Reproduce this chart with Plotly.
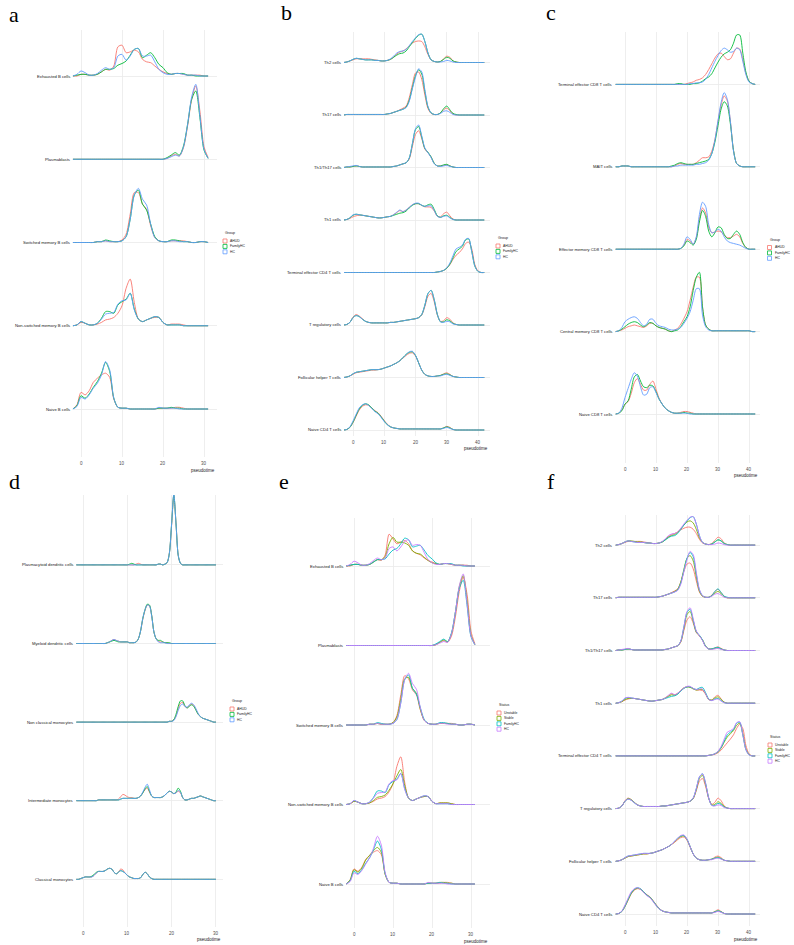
import plotly.graph_objects as go

W, H = 794, 945

GROUPS_3 = ["AHUD", "FamilyHC", "HC"]
GROUPS_4 = ["Unstable", "Stable", "FamilyHC", "HC"]
COLORS_3 = {"AHUD": "#F8766D", "FamilyHC": "#00BA38", "HC": "#619CFF"}
COLORS_4 = {"Unstable": "#F8766D", "Stable": "#7CAE00", "FamilyHC": "#00BFC4", "HC": "#C77CFF"}

# pseudotime grids
T_A = list(range(-2, 32))
T_B = list(range(-3, 43))
T_D = [i / 2 for i in range(-3, 61)]

TICKS_30 = [0, 10, 20, 30]
TICKS_40 = [0, 10, 20, 30, 40]

# ---------------- panel a (heights in % of ridge spacing)
A_RIDGES = ["Naive B cells", "Non-switched memory B cells", "Switched memory B cells", "Plasmablasts", "Exhausted B cells"]
A_NAIVE = {
    "AHUD":     [0,5,20,17,22,32,37,41,43,38,12,2,1,1,0,0,0,0,0,0,0,1,1,1,1,2,2,1,0,0,0,0,0,0],
    "FamilyHC": [0,4,16,13,18,26,33,43,56,45,13,2,1,1,0,0,0,0,0,0,0,1,1,1,2,1,1,0,0,0,0,0,0,0],
    "HC":       [0,3,14,12,17,25,31,41,57,47,13,2,1,1,0,0,0,0,0,0,0,2,1,1,1,1,0,0,0,0,0,0,0,0],
}
A_NONSW = {
    "AHUD":     [0,1,4,3,1,1,2,4,7,8,10,15,24,45,56,28,8,5,7,9,10,10,4,1,2,2,2,1,0,0,0,0,0,0],
    "FamilyHC": [0,1,5,3,1,1,3,9,17,17,15,25,29,32,39,20,8,5,7,9,11,10,4,1,1,1,1,0,0,0,0,0,0,0],
    "HC":       [0,1,5,3,1,1,3,8,14,15,16,26,30,31,39,19,8,5,7,9,11,10,4,1,1,1,1,0,0,0,0,0,0,0],
}
A_SW = {
    "AHUD":     [0,0,0,0,0,0,1,1,2,1,1,1,3,10,34,60,60,46,40,20,6,2,1,1,2,2,2,2,1,0,0,1,1,0],
    "FamilyHC": [0,0,0,0,0,0,1,1,3,2,1,1,2,7,28,57,63,46,39,22,7,2,1,1,3,3,2,1,1,0,0,1,1,0],
    "HC":       [0,0,0,0,0,0,1,1,2,1,1,1,2,7,28,57,65,52,45,22,6,2,1,1,2,2,1,1,1,0,0,1,1,0],
}
A_PLASMA = {
    "AHUD":     [0,0,0,0,0,0,0,0,0,0,0,0,0,0,0,0,0,0,0,0,0,0,0,1,4,6,4,14,40,72,88,58,15,2],
    "FamilyHC": [0,0,0,0,0,0,0,0,0,0,0,0,0,0,0,0,0,0,0,0,0,0,0,2,5,8,5,16,42,72,82,50,11,1],
    "HC":       [0,0,0,0,0,0,0,0,0,0,0,0,0,0,0,0,0,0,0,0,0,0,0,1,3,5,4,15,42,75,90,52,12,1],
}
A_EXH = {
    "AHUD":     [0,0,2,2,1,1,2,5,8,7,12,35,37,28,29,31,29,20,17,16,12,8,5,3,2,3,3,2,1,1,1,1,0,0],
    "FamilyHC": [0,1,2,2,1,1,2,5,8,8,9,13,15,18,25,32,33,22,25,28,22,14,10,4,2,3,3,3,1,1,0,0,0,0],
    "HC":       [0,2,6,4,1,1,3,7,10,8,10,24,26,19,24,32,33,24,24,25,17,8,4,2,2,3,3,2,1,1,1,0,0,0],
}
A_DATA = [A_NAIVE, A_NONSW, A_SW, A_PLASMA, A_EXH]

# ---------------- panel b
B_RIDGES = ["Naive CD4 T cells", "Follicular helper T cells", "T regulatory cells", "Terminal effector CD4 T cells",
            "Th1 cells", "Th1/Th17 cells", "Th17 cells", "Th2 cells"]
B_NAIVE = {
    "AHUD":     [0,1,5,14,26,38,45,48,47,42, 37,33,26,18,11,6,4,3,2,2, 2,2,2,2,2,2,2,2,2,2, 2,2,4,7,5,1,0,0,0,0, 0,0,0,0,0,0],
    "FamilyHC": [0,1,5,15,28,40,47,50,48,42, 36,32,25,17,10,6,4,3,2,2, 2,2,2,2,2,2,2,2,2,2, 2,2,4,6,4,1,0,0,0,0, 0,0,0,0,0,0],
    "HC":       [0,1,6,17,30,42,48,50,47,41, 35,31,24,16,10,6,4,3,2,2, 2,2,2,2,2,2,2,2,2,2, 2,2,3,5,3,1,0,0,0,0, 0,0,0,0,0,0],
}
B_TFH = {
    "AHUD":     [0,1,3,6,9,10,11,12,13,14, 14,15,16,18,20,22,25,28,32,37, 42,46,47,41,28,14,6,3,2,2, 3,4,7,9,6,2,1,0,0,0, 0,0,0,0,0,0],
    "FamilyHC": [0,1,3,7,10,11,12,13,14,15, 15,15,16,18,20,22,25,28,32,38, 44,48,49,42,28,14,6,3,2,2, 3,4,6,7,5,2,1,0,0,0, 0,0,0,0,0,0],
    "HC":       [0,1,3,7,10,11,12,13,14,15, 15,15,16,18,20,22,25,28,32,38, 44,49,50,42,28,14,6,3,2,2, 3,3,5,6,4,2,1,0,0,0, 0,0,0,0,0,0],
}
B_TREG = {
    "AHUD":     [0,1,5,15,20,17,12,7,5,4, 4,4,4,4,4,5,5,6,7,8, 9,10,11,12,14,19,35,55,60,44, 19,7,8,14,11,4,1,0,0,0, 0,0,0,0,0,0],
    "FamilyHC": [0,1,5,14,18,16,11,7,5,4, 4,4,4,4,4,5,5,6,7,8, 9,10,11,12,14,20,38,60,66,48, 20,6,6,10,8,3,1,0,0,0, 0,0,0,0,0,0],
    "HC":       [0,1,5,14,18,16,11,7,5,4, 4,4,4,4,4,5,5,6,7,8, 9,10,11,12,14,20,38,60,66,48, 20,6,5,7,6,2,1,0,0,0, 0,0,0,0,0,0],
}
B_TEFF = {
    "AHUD":     [0,0,0,0,0,0,0,0,0,0, 0,0,0,0,0,0,0,0,0,0, 0,0,0,0,0,0,0,0,0,0, 1,2,4,8,15,25,33,38,45,55, 58,45,15,3,0,0],
    "FamilyHC": [0,0,0,0,0,0,0,0,0,0, 0,0,0,0,0,0,0,0,0,0, 0,0,0,0,0,0,0,0,0,0, 1,2,4,8,16,28,40,45,50,62, 64,40,12,2,0,0],
    "HC":       [0,0,0,0,0,0,0,0,0,0, 0,0,0,0,0,0,0,0,0,0, 0,0,0,0,0,0,0,0,0,0, 1,2,4,9,18,32,45,48,52,63, 65,40,12,2,0,0],
}
B_TH1 = {
    "AHUD":     [0,1,3,6,8,9,9,8,7,6, 5,4,4,5,6,7,10,14,18,16, 19,24,29,31,31,28,25,25,24,17, 7,6,12,15,8,2,0,0,0,0, 0,0,0,0,0,0],
    "FamilyHC": [0,1,4,9,11,10,9,8,7,6, 5,4,4,5,6,7,9,11,13,14, 17,23,28,31,31,28,26,29,30,20, 8,5,8,9,5,1,0,0,0,0, 0,0,0,0,0,0],
    "HC":       [0,1,4,10,11,10,9,8,7,6, 5,4,4,5,6,7,10,15,19,16, 19,24,29,32,32,28,26,27,27,18, 7,5,7,8,4,1,0,0,0,0, 0,0,0,0,0,0],
}
B_TH1TH17 = {
    "AHUD":     [0,1,1,2,3,2,1,1,1,1, 1,1,1,1,1,1,2,3,5,7, 9,16,40,63,70,55,35,28,20,8, 3,3,4,5,3,1,0,0,0,0, 0,0,0,0,0,0],
    "FamilyHC": [0,1,1,2,3,2,1,1,1,1, 1,1,1,1,1,1,2,3,5,7, 9,18,45,72,78,58,36,29,20,8, 3,3,5,6,3,1,0,0,0,0, 0,0,0,0,0,0],
    "HC":       [0,1,2,3,4,2,1,1,1,1, 1,1,1,1,1,1,2,3,5,7, 9,18,45,74,81,60,37,28,19,7, 3,2,3,4,2,1,0,0,0,0, 0,0,0,0,0,0],
}
B_TH17 = {
    "AHUD":     [0,1,1,1,1,1,1,1,1,1, 1,1,1,1,2,3,5,7,10,13, 17,33,58,80,82,68,38,12,3,1, 1,4,10,13,8,2,0,0,0,0, 0,0,0,0,0,0],
    "FamilyHC": [0,1,1,1,1,1,1,1,1,1, 1,1,1,1,2,3,5,7,9,11, 15,28,52,75,86,78,45,15,4,1, 1,4,12,17,10,3,1,0,0,0, 0,0,0,0,0,0],
    "HC":       [0,1,1,1,1,1,1,1,1,1, 1,1,1,1,2,3,5,7,9,11, 14,26,50,72,88,82,48,16,4,1, 1,3,7,8,5,1,0,0,0,0, 0,0,0,0,0,0],
}
B_TH2 = {
    "AHUD":     [0,1,3,5,7,7,7,7,7,6, 5,4,3,3,4,6,10,16,20,22, 26,32,37,40,41,40,30,15,5,2, 1,2,7,12,10,3,1,0,0,0, 0,0,0,0,0,0],
    "FamilyHC": [0,1,3,6,8,7,6,5,5,5, 4,4,3,3,4,6,10,14,17,18, 22,30,38,46,52,54,40,18,5,2, 1,2,6,10,8,3,1,0,0,0, 0,0,0,0,0,0],
    "HC":       [0,1,3,6,8,7,6,5,5,5, 4,4,3,3,4,7,12,18,21,22, 25,32,40,47,53,54,40,18,5,2, 1,1,2,4,3,1,0,0,0,0, 0,0,0,0,0,0],
}
B_DATA = [B_NAIVE, B_TFH, B_TREG, B_TEFF, B_TH1, B_TH1TH17, B_TH17, B_TH2]

# ---------------- panel c
C_RIDGES = ["Naive CD8 T cells", "Central memory CD8 T cells", "Effector memory CD8 T cells", "MAIT cells",
            "Terminal effector CD8 T cells"]
C_NAIVE = {
    "AHUD":     [0,1,5,12,15,25,38,43,36,29, 29,36,40,30,19,12,7,4,2,1, 1,2,3,3,2,1,0,0,0,0, 0,0,0,0,0,0,0,0,0,0, 0,0,0,0,0,0],
    "FamilyHC": [0,1,4,12,16,30,45,48,40,33, 32,35,34,27,18,12,7,4,2,1, 1,1,2,1,1,0,0,0,0,0, 0,0,0,0,0,0,0,0,0,0, 0,0,0,0,0,0],
    "HC":       [0,1,7,20,31,42,50,46,33,23, 24,32,33,26,18,12,7,4,2,1, 1,1,1,1,0,0,0,0,0,0, 0,0,0,0,0,0,0,0,0,0, 0,0,0,0,0,0],
}
C_CM = {
    "AHUD":     [0,1,2,4,6,7,8,7,6,5, 7,10,10,7,5,4,3,1,0,2, 4,9,16,24,38,54,66,66,30,8, 3,1,1,1,1,1,1,1,1,1, 1,1,1,1,0,0],
    "FamilyHC": [0,1,3,6,9,11,12,11,8,6, 8,11,10,7,5,4,3,1,0,1, 2,6,12,18,30,50,66,72,30,8, 3,1,1,1,1,1,1,1,1,1, 1,1,1,1,0,0],
    "HC":       [0,1,5,12,15,17,18,16,11,7, 9,15,15,10,7,6,5,3,2,2, 3,5,10,16,24,38,52,52,20,6, 2,1,1,1,1,1,1,1,1,1, 1,1,1,1,0,0],
}
C_EM = {
    "AHUD":     [0,0,0,0,0,0,0,0,0,0, 0,0,0,0,0,0,0,0,0,0, 0,1,5,12,10,6,14,36,50,44, 27,20,21,22,21,17,14,14,16,18, 15,7,2,0,0,0],
    "FamilyHC": [0,0,0,0,0,0,0,0,0,0, 0,0,0,0,0,0,0,0,0,0, 0,1,4,10,8,5,12,33,47,40, 22,15,20,27,26,18,13,13,18,22, 18,8,2,0,0,0],
    "HC":       [0,0,0,0,0,0,0,0,0,0, 0,0,0,0,0,0,0,0,0,0, 0,1,6,15,12,6,15,42,57,52, 30,20,21,24,22,15,10,8,7,6, 5,3,1,0,0,0],
}
C_MAIT = {
    "AHUD":     [0,0,1,1,1,0,0,0,0,0, 0,0,0,0,0,0,0,0,0,1, 3,4,3,3,3,3,5,8,11,11, 12,19,33,55,75,86,80,55,20,4, 1,0,0,0,0,0],
    "FamilyHC": [0,0,1,1,1,0,0,0,0,0, 0,0,0,0,0,0,0,0,1,2, 4,5,4,3,3,3,4,5,6,7, 9,16,30,50,70,79,74,52,20,4, 1,0,0,0,0,0],
    "HC":       [0,0,1,1,1,0,0,0,0,0, 0,0,0,0,0,0,0,0,0,1, 1,2,2,2,2,2,3,3,4,5, 8,16,32,56,78,90,82,55,19,4, 1,0,0,0,0,0],
}
C_TEFF = {
    "AHUD":     [0,0,0,0,0,0,0,0,0,0, 0,0,0,0,0,0,0,0,0,0, 0,0,0,1,2,3,5,6,8,12, 18,25,32,37,38,34,30,31,38,44, 43,30,13,4,1,0],
    "FamilyHC": [0,0,0,0,0,0,0,0,0,0, 0,0,0,0,0,0,0,0,0,0, 1,1,0,0,0,1,1,2,4,7, 9,13,20,27,33,37,39,42,50,60, 60,38,15,4,1,0],
    "HC":       [0,0,0,0,0,0,0,0,0,0, 0,0,0,0,0,0,0,0,0,0, 0,0,0,0,1,1,2,2,3,6, 12,20,28,35,41,44,42,39,40,44, 42,28,12,3,1,0],
}
C_DATA = [C_NAIVE, C_CM, C_EM, C_MAIT, C_TEFF]

# ---------------- panel d (grid step 0.5)
D_RIDGES = ["Classical monocytes", "Intermediate monocytes", "Non classical monocytes", "Myeloid dendritic cells",
            "Plasmacytoid dendritic cells"]
D_CLASSICAL = {
    "AHUD": [0,0,1,2,3,3,3,3, 5,8,10,10,10,11,13,14, 13,9,7,9,13,12,8,5, 3,2,1,1,1,2,6,9,
             7,3,1,0,0,0,0,0, 0,0,0,0,0,0,0,0, 0,0,0,0,0,0,0,0, 0,0,0,0,0,0,0,0],
    "FamilyHC": [0,0,1,2,3,3,3,4, 6,9,10,10,10,11,13,14, 13,9,7,9,11,10,8,5, 3,2,1,1,1,2,6,9,
                 7,3,1,0,0,0,0,0, 0,0,0,0,0,0,0,0, 0,0,0,0,0,0,0,0, 0,0,0,0,0,0,0,0],
    "HC": [0,0,1,2,3,3,3,3, 5,8,10,10,10,11,13,14, 13,9,7,9,11,10,8,5, 3,2,1,1,1,2,6,9,
           7,3,1,0,0,0,0,0, 0,0,0,0,0,0,0,0, 0,0,0,0,0,0,0,0, 0,0,0,0,0,0,0,0],
}
D_INTER = {
    "AHUD": [0,0,0,0,0,0,0,0, 0,0,1,1,1,1,1,1, 1,1,1,2,5,8,7,5, 4,4,3,3,4,6,10,14,
             16,11,6,4,4,4,4,5, 7,10,12,11,9,10,12,10, 4,1,1,2,3,3,4,5, 6,5,4,3,2,1,0,0],
    "FamilyHC": [0,0,0,0,0,0,0,0, 0,0,1,1,1,1,1,1, 1,1,1,1,2,3,3,3, 3,3,3,3,4,6,10,15,
                 18,12,6,4,4,4,4,5, 7,10,12,11,9,11,16,12, 4,1,1,2,3,3,4,5, 6,5,4,3,2,1,0,0],
    "HC": [0,0,0,0,0,0,0,0, 0,0,1,1,1,1,1,1, 1,1,1,1,2,3,3,3, 3,3,3,3,4,6,11,17,
           21,14,6,4,4,4,4,5, 7,10,12,11,9,10,13,11, 4,1,1,2,3,3,4,5, 6,5,4,3,2,1,0,0],
}
D_NONCLASS = {
    "AHUD": [0,0,0,0,0,0,0,0, 0,0,0,0,0,0,0,0, 0,0,0,0,0,0,0,0, 0,0,0,0,0,0,0,0,
             0,0,0,0,0,0,0,0, 0,0,1,1,3,8,17,24, 25,20,18,21,23,21,16,10, 7,5,4,3,2,1,0,0],
    "FamilyHC": [0,0,0,0,0,0,0,0, 0,0,0,0,0,0,0,0, 0,0,0,0,0,0,0,0, 0,0,0,0,0,0,0,0,
                 0,0,0,0,0,0,0,0, 0,0,1,1,3,10,20,27, 27,21,18,20,22,20,15,10, 7,5,4,3,2,1,0,0],
    "HC": [0,0,0,0,0,0,0,0, 0,0,0,0,0,0,0,0, 0,0,0,0,0,0,0,0, 0,0,0,0,0,0,0,0,
           0,0,0,0,0,0,0,0, 0,0,1,1,2,7,15,21, 23,20,19,22,24,22,17,11, 7,5,4,3,2,1,0,0],
}
D_MYELOID = {
    "AHUD": [0,0,0,0,0,0,0,0, 0,0,0,0,0,0,1,2, 4,5,4,3,2,2,2,2, 1,1,1,2,6,16,31,42,
             49,48,36,15,6,3,2,2, 1,1,0,0,0,0,0,0, 0,0,0,0,0,0,0,0, 0,0,0,0,0,0,0,0],
    "FamilyHC": [0,0,0,0,0,0,0,0, 0,0,0,0,0,0,1,2, 3,4,3,2,2,2,2,2, 1,1,1,2,6,16,32,43,
                 50,49,36,15,6,4,4,2, 1,1,1,0,0,0,0,0, 0,0,0,0,0,0,0,0, 0,0,0,0,0,0,0,0],
    "HC": [0,0,0,0,0,0,0,0, 0,0,0,0,0,0,1,2, 4,5,4,3,2,2,2,2, 1,1,1,2,6,16,32,43,
           49,48,35,15,6,2,1,1, 1,0,0,0,0,0,0,0, 0,0,0,0,0,0,0,0, 0,0,0,0,0,0,0,0],
}
D_PDC = {
    "AHUD": [0,0,0,0,0,0,0,0, 0,0,0,0,0,0,0,0, 0,0,0,0,0,0,0,0, 0,0,0,1,2,1,0,0,
             0,0,0,0,0,1,1,0, 1,3,15,50,88,53,12,2, 0,0,0,0,0,0,0,0, 0,0,0,0,0,0,0,0],
    "FamilyHC": [0,0,0,0,0,0,0,0, 0,0,0,0,0,0,0,0, 0,0,0,0,0,0,0,0, 1,2,1,0,0,0,0,0,
                 0,0,0,0,0,1,1,0, 1,3,15,52,89,52,12,2, 0,0,0,0,0,0,0,0, 0,0,0,0,0,0,0,0],
    "HC": [0,0,0,0,0,0,0,0, 0,0,0,0,0,0,0,0, 0,0,0,0,0,0,0,0, 0,0,0,0,0,0,0,0,
           0,0,0,0,0,1,1,0, 1,3,15,52,90,52,12,2, 0,0,0,0,0,0,0,0, 0,0,0,0,0,0,0,0],
}
D_DATA = [D_CLASSICAL, D_INTER, D_NONCLASS, D_MYELOID, D_PDC]

# ---------------- panel e (B cells by status)
E_RIDGES = A_RIDGES
E_NAIVE = {
    "Unstable": [0,5,19,16,21,31,36,40,42,37,12,2,1,1,0,0,0,0,0,0,0,1,1,1,1,2,2,1,0,0,0,0,0,0],
    "Stable":   [0,5,18,15,20,30,36,42,46,40,12,2,1,1,0,0,0,0,0,0,0,1,1,1,2,2,1,1,0,0,0,0,0,0],
    "FamilyHC": [0,4,16,13,18,26,33,43,54,44,13,2,1,1,0,0,0,0,0,0,0,1,1,1,2,1,1,0,0,0,0,0,0,0],
    "HC":       [0,3,14,12,17,25,33,45,60,49,14,2,1,1,0,0,0,0,0,0,0,2,1,1,1,1,0,0,0,0,0,0,0,0],
}
E_NONSW = {
    "Unstable": [0,1,4,3,1,1,2,4,7,8,10,16,26,48,60,28,8,5,7,9,10,10,4,1,2,2,2,1,0,0,0,0,0,0],
    "Stable":   [0,1,4,3,1,1,2,5,9,10,12,18,26,36,44,24,8,5,7,9,10,10,4,1,2,2,2,1,0,0,0,0,0,0],
    "FamilyHC": [0,1,5,3,1,1,3,9,17,17,15,25,29,32,39,20,8,5,7,9,11,10,4,1,1,1,1,0,0,0,0,0,0,0],
    "HC":       [0,1,5,3,1,1,3,8,14,15,16,26,30,31,39,19,8,5,7,9,11,10,4,1,1,1,1,0,0,0,0,0,0,0],
}
E_SW = {
    "Unstable": [0,0,0,0,0,0,1,1,2,1,1,1,3,12,38,62,58,44,38,19,6,2,1,1,2,2,2,2,1,0,0,1,1,0],
    "Stable":   [0,0,0,0,0,0,1,1,2,1,1,1,3,10,33,58,60,46,40,20,6,2,1,1,2,2,2,1,1,0,0,1,1,0],
    "FamilyHC": [0,0,0,0,0,0,1,1,3,2,1,1,2,7,28,57,63,46,39,22,7,2,1,1,3,3,2,1,1,0,0,1,1,0],
    "HC":       [0,0,0,0,0,0,1,1,2,1,1,1,2,7,28,57,65,52,45,22,6,2,1,1,2,2,1,1,1,0,0,1,1,0],
}
E_PLASMA = {
    "Unstable": [0,0,0,0,0,0,0,0,0,0,0,0,0,0,0,0,0,0,0,0,0,0,0,1,4,6,4,12,36,68,86,64,18,2],
    "Stable":   [0,0,0,0,0,0,0,0,0,0,0,0,0,0,0,0,0,0,0,0,0,0,0,1,4,7,5,15,42,74,88,56,13,1],
    "FamilyHC": [0,0,0,0,0,0,0,0,0,0,0,0,0,0,0,0,0,0,0,0,0,0,0,2,5,8,5,16,42,72,82,50,11,1],
    "HC":       [0,0,0,0,0,0,0,0,0,0,0,0,0,0,0,0,0,0,0,0,0,0,0,1,3,5,4,15,42,75,90,52,12,1],
}
E_EXH = {
    "Unstable": [0,0,2,2,1,1,2,5,8,7,14,40,34,28,30,32,28,19,16,14,10,7,5,3,2,3,3,2,1,1,1,1,0,0],
    "Stable":   [0,1,2,2,1,1,2,5,8,8,12,28,36,30,30,29,26,19,16,15,11,7,4,3,2,3,3,2,1,1,1,0,0,0],
    "FamilyHC": [0,1,2,2,1,1,2,5,8,8,9,15,20,22,28,35,33,24,25,26,20,13,9,4,2,3,3,3,1,1,0,0,0,0],
    "HC":       [0,2,6,4,1,1,3,7,10,8,10,22,24,19,24,31,33,26,27,26,17,8,4,2,2,3,3,2,1,1,1,0,0,0],
}
E_DATA = [E_NAIVE, E_NONSW, E_SW, E_PLASMA, E_EXH]

# ---------------- panel f (CD4 T cells by status)
F_RIDGES = B_RIDGES
F_NAIVE = {
    "Unstable": [0,1,5,14,26,38,45,48,47,42, 37,33,26,18,11,6,4,3,2,2, 2,2,2,2,2,2,2,2,2,2, 2,2,5,8,5,1,0,0,0,0, 0,0,0,0,0,0],
    "Stable":   [0,1,5,15,27,39,46,49,47,42, 36,32,25,17,10,6,4,3,2,2, 2,2,2,2,2,2,2,2,2,2, 2,2,4,6,4,1,0,0,0,0, 0,0,0,0,0,0],
    "FamilyHC": [0,1,5,15,28,40,47,50,48,42, 36,32,25,17,10,6,4,3,2,2, 2,2,2,2,2,2,2,2,2,2, 2,2,4,6,4,1,0,0,0,0, 0,0,0,0,0,0],
    "HC":       [0,1,6,17,30,42,48,50,47,41, 35,31,24,16,10,6,4,3,2,2, 2,2,2,2,2,2,2,2,2,2, 2,2,3,5,3,1,0,0,0,0, 0,0,0,0,0,0],
}
F_TFH = {
    "Unstable": [0,1,3,6,9,10,11,12,13,14, 14,15,16,18,20,22,25,28,32,36, 41,45,46,40,27,14,6,3,2,2, 3,4,8,10,7,2,1,0,0,0, 0,0,0,0,0,0],
    "Stable":   [0,1,3,6,9,10,11,12,13,14, 14,15,16,18,20,22,25,28,32,37, 43,47,48,41,28,14,6,3,2,2, 3,4,6,8,5,2,1,0,0,0, 0,0,0,0,0,0],
    "FamilyHC": [0,1,3,7,10,11,12,13,14,15, 15,15,16,18,20,22,25,28,32,38, 44,48,49,42,28,14,6,3,2,2, 3,4,6,7,5,2,1,0,0,0, 0,0,0,0,0,0],
    "HC":       [0,1,3,7,10,11,12,13,14,15, 15,15,16,18,20,22,25,28,32,38, 44,49,50,42,28,14,6,3,2,2, 3,3,5,6,4,2,1,0,0,0, 0,0,0,0,0,0],
}
F_TREG = {
    "Unstable": [0,1,5,15,20,17,12,7,5,4, 4,4,4,4,4,5,5,6,7,8, 9,10,11,12,14,19,34,52,57,42, 19,8,12,20,15,5,1,0,0,0, 0,0,0,0,0,0],
    "Stable":   [0,1,5,14,19,17,12,7,5,4, 4,4,4,4,4,5,5,6,7,8, 9,10,11,12,14,19,36,57,63,46, 20,7,8,13,10,4,1,0,0,0, 0,0,0,0,0,0],
    "FamilyHC": [0,1,5,14,18,16,11,7,5,4, 4,4,4,4,4,5,5,6,7,8, 9,10,11,12,14,20,38,60,66,48, 20,6,6,10,8,3,1,0,0,0, 0,0,0,0,0,0],
    "HC":       [0,1,5,14,18,16,11,7,5,4, 4,4,4,4,4,5,5,6,7,8, 9,10,11,12,14,20,38,60,66,48, 20,6,5,7,6,2,1,0,0,0, 0,0,0,0,0,0],
}
F_TEFF = {
    "Unstable": [0,0,0,0,0,0,0,0,0,0, 0,0,0,0,0,0,0,0,0,0, 0,0,0,0,0,0,0,0,0,0, 1,2,3,6,11,18,25,32,40,52, 60,52,20,4,0,0],
    "Stable":   [0,0,0,0,0,0,0,0,0,0, 0,0,0,0,0,0,0,0,0,0, 0,0,0,0,0,0,0,0,0,0, 1,2,4,8,15,26,36,42,48,58, 62,42,13,3,0,0],
    "FamilyHC": [0,0,0,0,0,0,0,0,0,0, 0,0,0,0,0,0,0,0,0,0, 0,0,0,0,0,0,0,0,0,0, 1,2,4,8,16,28,40,45,50,62, 64,40,12,2,0,0],
    "HC":       [0,0,0,0,0,0,0,0,0,0, 0,0,0,0,0,0,0,0,0,0, 0,0,0,0,0,0,0,0,0,0, 1,2,4,9,18,32,45,48,52,63, 65,40,12,2,0,0],
}
F_TH1 = {
    "Unstable": [0,1,3,6,8,9,9,8,7,6, 5,4,4,5,6,7,10,14,18,16, 19,24,29,31,31,28,25,25,24,17, 7,6,12,15,8,2,0,0,0,0, 0,0,0,0,0,0],
    "Stable":   [0,1,3,7,9,9,9,8,7,6, 5,4,4,5,6,7,10,13,16,15, 18,24,29,31,30,27,25,26,26,18, 7,6,10,12,7,2,0,0,0,0, 0,0,0,0,0,0],
    "FamilyHC": [0,1,4,9,11,10,9,8,7,6, 5,4,4,5,6,7,9,11,13,14, 17,23,28,31,31,28,26,29,30,20, 8,5,8,9,5,1,0,0,0,0, 0,0,0,0,0,0],
    "HC":       [0,1,4,10,11,10,9,8,7,6, 5,4,4,5,6,7,10,15,19,16, 19,24,29,32,32,28,26,27,27,18, 7,5,7,8,4,1,0,0,0,0, 0,0,0,0,0,0],
}
F_TH1TH17 = {
    "Unstable": [0,1,1,2,3,2,1,1,1,1, 1,1,1,1,1,1,2,3,5,7, 9,16,38,58,64,52,34,28,20,8, 3,3,5,7,4,1,0,0,0,0, 0,0,0,0,0,0],
    "Stable":   [0,1,1,2,3,2,1,1,1,1, 1,1,1,1,1,1,2,3,5,7, 9,17,42,68,74,56,35,28,20,8, 3,3,4,5,3,1,0,0,0,0, 0,0,0,0,0,0],
    "FamilyHC": [0,1,1,2,3,2,1,1,1,1, 1,1,1,1,1,1,2,3,5,7, 9,18,45,72,78,58,36,29,20,8, 3,3,5,6,3,1,0,0,0,0, 0,0,0,0,0,0],
    "HC":       [0,1,2,3,4,2,1,1,1,1, 1,1,1,1,1,1,2,3,5,7, 9,18,45,74,81,60,37,28,19,7, 3,2,3,4,2,1,0,0,0,0, 0,0,0,0,0,0],
}
F_TH17 = {
    "Unstable": [0,1,1,1,1,1,1,1,1,1, 1,1,1,1,2,3,5,7,10,13, 17,30,50,64,66,55,32,11,3,1, 1,5,12,16,10,3,0,0,0,0, 0,0,0,0,0,0],
    "Stable":   [0,1,1,1,1,1,1,1,1,1, 1,1,1,1,2,3,5,7,9,12, 16,30,54,75,80,70,40,13,3,1, 1,4,9,12,8,2,0,0,0,0, 0,0,0,0,0,0],
    "FamilyHC": [0,1,1,1,1,1,1,1,1,1, 1,1,1,1,2,3,5,7,9,11, 15,28,52,75,86,78,45,15,4,1, 1,4,12,17,10,3,1,0,0,0, 0,0,0,0,0,0],
    "HC":       [0,1,1,1,1,1,1,1,1,1, 1,1,1,1,2,3,5,7,9,11, 14,26,50,72,88,82,48,16,4,1, 1,3,7,8,5,1,0,0,0,0, 0,0,0,0,0,0],
}
F_TH2 = {
    "Unstable": [0,1,3,5,7,7,7,7,7,6, 5,4,3,3,4,6,10,16,20,22, 25,29,32,34,34,30,22,11,4,2, 1,3,9,15,12,4,1,0,0,0, 0,0,0,0,0,0],
    "Stable":   [0,1,3,6,8,8,7,6,6,5, 4,4,3,3,4,6,10,15,18,20, 24,31,38,44,46,42,30,14,5,2, 1,2,6,10,8,3,1,0,0,0, 0,0,0,0,0,0],
    "FamilyHC": [0,1,3,6,8,7,6,5,5,5, 4,4,3,3,4,6,10,14,17,18, 22,30,38,46,52,54,40,18,5,2, 1,2,6,10,8,3,1,0,0,0, 0,0,0,0,0,0],
    "HC":       [0,1,3,6,8,7,6,5,5,5, 4,4,3,3,4,7,12,18,21,22, 25,32,40,47,53,54,40,18,5,2, 1,1,2,4,3,1,0,0,0,0, 0,0,0,0,0,0],
}
F_DATA = [F_NAIVE, F_TFH, F_TREG, F_TEFF, F_TH1, F_TH1TH17, F_TH17, F_TH2]

# ---------------- layout (pixel geometry of each panel)
PANELS = [
    dict(letter="a", t=T_A, ridges=A_RIDGES, data=A_DATA, groups=GROUPS_3, colors=COLORS_3, title="Group", ticks=TICKS_30,
         x0=81, ppu=4.1, left=72.7, right=216.7, base0=409, sp=83.25, top=30, bottom=457, leg=(223, 233), lpos=(14, 14)),
    dict(letter="b", t=T_B, ridges=B_RIDGES, data=B_DATA, groups=GROUPS_3, colors=COLORS_3, title="Group", ticks=TICKS_40,
         x0=353, ppu=3.125, left=344, right=490, base0=430, sp=52.5, top=32, bottom=436, leg=(496, 238), lpos=(286, 13)),
    dict(letter="c", t=T_B, ridges=C_RIDGES, data=C_DATA, groups=GROUPS_3, colors=COLORS_3, title="Group", ticks=TICKS_40,
         x0=625, ppu=3.1, left=615, right=760, base0=414, sp=82.4, top=31.7, bottom=463, leg=(767.5, 239.5), lpos=(551, 13)),
    dict(letter="d", t=T_D, ridges=D_RIDGES, data=D_DATA, groups=GROUPS_3, colors=COLORS_3, title="Group", ticks=TICKS_30,
         x0=83, ppu=4.43, left=76, right=222.7, base0=879.3, sp=78.6, top=495, bottom=926.7, leg=(230, 701), lpos=(14, 481)),
    dict(letter="e", t=T_A, ridges=E_RIDGES, data=E_DATA, groups=GROUPS_4, colors=COLORS_4, title="Status", ticks=TICKS_30,
         x0=354, ppu=3.9, left=346, right=490, base0=884, sp=79.5, top=518, bottom=928, leg=(497, 705), lpos=(284, 481)),
    dict(letter="f", t=T_B, ridges=F_RIDGES, data=F_DATA, groups=GROUPS_4, colors=COLORS_4, title="Status", ticks=TICKS_40,
         x0=625, ppu=3.1, left=615, right=760, base0=914, sp=52.7, top=515, bottom=926, leg=(768, 737), lpos=(551, 481)),
]

GRID = "#EAEAEA"
fig = go.Figure()
layout = dict(width=W, height=H, margin=dict(l=0, r=0, t=0, b=0), paper_bgcolor="white", plot_bgcolor="white",
              showlegend=False, font=dict(family="Liberation Sans, Arial, sans-serif"))
annotations = []
shapes = []

for k, p in enumerate(PANELS, start=1):
    xs = "x" if k == 1 else f"x{k}"
    ys = "y" if k == 1 else f"y{k}"
    for r, ridge in enumerate(p["data"]):
        for g in p["groups"]:
            fig.add_trace(go.Scatter(
                x=p["t"], y=[r + v / 100 for v in ridge[g]], mode="lines",
                line=dict(color=p["colors"][g], width=0.9, shape="spline", smoothing=0.8),
                xaxis=xs, yaxis=ys, hoverinfo="skip", showlegend=False))
    xr = [(p["left"] - p["x0"]) / p["ppu"], (p["right"] - p["x0"]) / p["ppu"]]
    yr = [(p["base0"] - p["bottom"]) / p["sp"], (p["base0"] - p["top"]) / p["sp"]]
    layout["xaxis" if k == 1 else f"xaxis{k}"] = dict(
        domain=[p["left"] / W, p["right"] / W], range=xr, anchor=ys,
        tickvals=p["ticks"], showticklabels=False, ticks="", showline=False, zeroline=False,
        showgrid=True, gridcolor=GRID, gridwidth=0.8)
    layout["yaxis" if k == 1 else f"yaxis{k}"] = dict(
        domain=[1 - p["bottom"] / H, 1 - p["top"] / H], range=yr, anchor=xs,
        tickvals=list(range(len(p["ridges"]))), showticklabels=False, ticks="", showline=False, zeroline=False,
        showgrid=True, gridcolor=GRID, gridwidth=0.8)
    for tv in p["ticks"]:
        annotations.append(dict(xref=xs, yref="paper", x=tv, y=1 - (p["bottom"] + 6.5) / H, text=str(tv),
                                showarrow=False, xanchor="center", yanchor="middle",
                                font=dict(size=4.5, color="#4D4D4D")))
    for r, name in enumerate(p["ridges"]):
        annotations.append(dict(xref="paper", yref=ys, x=(p["left"] - 1) / W, y=r, text=name, showarrow=False,
                                xanchor="right", yanchor="middle", font=dict(size=4.2, color="#1A1A1A")))
    annotations.append(dict(xref="paper", yref="paper", x=p["right"] / W, y=1 - (p["bottom"] + 13) / H,
                            text="pseudotime", showarrow=False, xanchor="right", yanchor="middle",
                            font=dict(size=4.5, color="#1A1A1A")))
    annotations.append(dict(xref="paper", yref="paper", x=p["lpos"][0] / W, y=1 - p["lpos"][1] / H, text=p["letter"],
                            showarrow=False, xanchor="center", yanchor="middle",
                            font=dict(size=22, family="Liberation Serif, Times New Roman, serif", color="black")))
    lx, ly = p["leg"]
    annotations.append(dict(xref="paper", yref="paper", x=lx / W, y=1 - ly / H, text=p["title"], showarrow=False,
                            xanchor="left", yanchor="middle", font=dict(size=3.6, color="#1A1A1A")))
    for i, g in enumerate(p["groups"]):
        cy = ly + 8 + 5.4 * i
        shapes.append(dict(type="rect", xref="paper", yref="paper", x0=lx / W, x1=(lx + 4) / W,
                           y0=1 - (cy - 2) / H, y1=1 - (cy + 2) / H, line=dict(color=p["colors"][g], width=0.8),
                           fillcolor="white"))
        annotations.append(dict(xref="paper", yref="paper", x=(lx + 5) / W, y=1 - cy / H, text=g, showarrow=False,
                                xanchor="left", yanchor="middle", font=dict(size=3.4, color="#1A1A1A")))

layout["annotations"] = annotations
layout["shapes"] = shapes
fig.update_layout(**layout)
fig.write_html("out.html", config={"displayModeBar": False, "staticPlot": True},
               post_script="document.body.style.margin='0px';document.body.style.overflow='hidden';")
